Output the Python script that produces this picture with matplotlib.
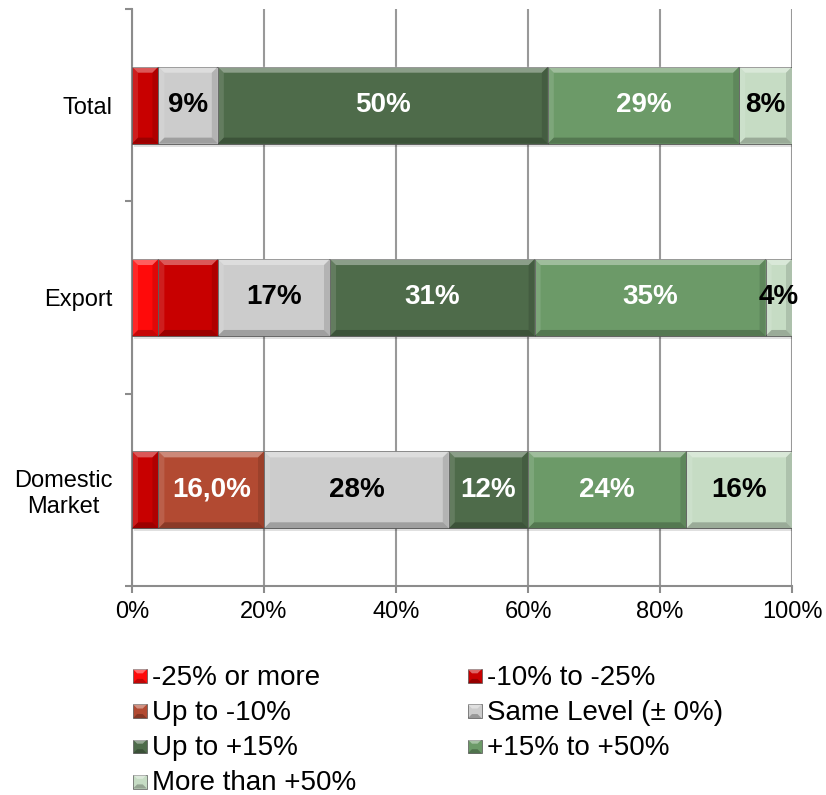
import matplotlib
matplotlib.use("Agg")
import matplotlib.pyplot as plt
from matplotlib.patches import Rectangle, Polygon
from matplotlib.legend_handler import HandlerPatch

plt.rcParams["font.family"] = ["Liberation Sans", "DejaVu Sans"]

categories = ["Total", "Export", "Domestic\nMarket"]
series = ["-25% or more", "-10% to -25%", "Up to -10%", "Same Level (\u00b1 0%)",
          "Up to +15%", "+15% to +50%", "More than +50%"]
colors = ["#ff0a0a", "#c80000", "#b24a32", "#cccccc", "#4e6b4a", "#6c9a68", "#c6dcc4"]

# share of answers per category, one list per series (Total, Export, Domestic)
values = [
    [0, 4, 0],
    [4, 9, 4],
    [0, 0, 16],
    [9, 17, 28],
    [50, 31, 12],
    [29, 35, 24],
    [8, 4, 16],
]
labels = [
    [None, None, None],
    [None, None, None],
    [None, None, "16,0%"],
    ["9%", "17%", "28%"],
    ["50%", "31%", "12%"],
    ["29%", "35%", "24%"],
    ["8%", "4%", "16%"],
]
label_colors = ["white", "white", "white", "black", "white", "white", "black"]

fig = plt.figure(figsize=(8.26, 7.95), dpi=100)
ax = fig.add_axes([132 / 826, 1 - 586 / 795, 660 / 826, 577 / 795])
ax.set_xlim(0, 100)
ax.set_ylim(2.5, -0.5)

bar_h = 0.40
ypos = list(range(len(categories)))
left = [0] * len(categories)
containers = []
for i, name in enumerate(series):
    bc = ax.barh(ypos, values[i], left=left, height=bar_h, color=colors[i],
                 edgecolor="#555555", linewidth=0.6, zorder=3, label=name)
    containers.append(bc)
    for j, v in enumerate(values[i]):
        if labels[i][j]:
            ax.text(left[j] + v / 2, ypos[j], labels[i][j], ha="center", va="center",
                    fontsize=20, fontweight="bold", color=label_colors[i], zorder=6)
    left = [l + v for l, v in zip(left, values[i])]

# bevelled look: light top/left bands, dark bottom/right bands, soft shadow
sx = 660 / 100
sy = 577 / 3
bev = 6.0
for bc in containers:
    for r in bc.patches:
        w = r.get_width()
        if w <= 0:
            continue
        x0, y0 = r.get_x(), r.get_y()
        x1, y1 = x0 + w, y0 + r.get_height()
        bx = min(bev / sx, w / 2)
        by = bev / sy
        ax.add_patch(Rectangle((x0 + 2 / sx, y0 + 3 / sy), w, r.get_height(),
                               color="#000000", alpha=0.12, lw=0, zorder=2))
        top = [(x0, y0), (x1, y0), (x1 - bx, y0 + by), (x0 + bx, y0 + by)]
        bot = [(x0, y1), (x1, y1), (x1 - bx, y1 - by), (x0 + bx, y1 - by)]
        lft = [(x0, y0), (x0 + bx, y0 + by), (x0 + bx, y1 - by), (x0, y1)]
        rgt = [(x1, y0), (x1 - bx, y0 + by), (x1 - bx, y1 - by), (x1, y1)]
        ax.add_patch(Polygon(top, closed=True, color="white", alpha=0.35, lw=0, zorder=4))
        ax.add_patch(Polygon(bot, closed=True, color="black", alpha=0.22, lw=0, zorder=4))
        ax.add_patch(Polygon(lft, closed=True, color="white", alpha=0.12, lw=0, zorder=4))
        ax.add_patch(Polygon(rgt, closed=True, color="black", alpha=0.12, lw=0, zorder=4))

ax.set_xticks(range(0, 101, 20))
ax.set_xticklabels([f"{t}%" for t in range(0, 101, 20)], fontsize=17)
ax.set_yticks(ypos)
ax.set_yticklabels(categories, fontsize=17, multialignment="center")
ax.set_yticks([-0.5, 0.5, 1.5, 2.5], minor=True)
ax.tick_params(axis="y", which="major", length=0, pad=14)
ax.tick_params(axis="y", which="minor", length=5, width=1.5, color="#8c8c8c", direction="out")
ax.tick_params(axis="x", length=5, width=1.5, color="#8c8c8c", pad=6)

ax.grid(axis="x", color="#999999", linewidth=1.5, zorder=0)
ax.set_axisbelow(True)
for s in ["top", "right"]:
    ax.spines[s].set_visible(False)
for s in ["left", "bottom"]:
    ax.spines[s].set_color("#8c8c8c")
    ax.spines[s].set_linewidth(1.5)


class BevelHandler(HandlerPatch):
    def create_artists(self, legend, orig_handle, xdescent, ydescent, width, height, fontsize, trans):
        x0, y0 = -xdescent, -ydescent
        s = min(width, height)
        x1, y1 = x0 + s, y0 + s
        b = s * 0.3
        base = Rectangle((x0, y0), s, s, facecolor=orig_handle.get_facecolor(),
                         edgecolor="#555555", lw=0.5, transform=trans)
        top = Polygon([(x0, y1), (x1, y1), (x1 - b, y1 - b), (x0 + b, y1 - b)],
                      closed=True, color="white", alpha=0.4, lw=0, transform=trans)
        bot = Polygon([(x0, y0), (x1, y0), (x1 - b, y0 + b), (x0 + b, y0 + b)],
                      closed=True, color="black", alpha=0.25, lw=0, transform=trans)
        return [base, top, bot]


handles = [bc.patches[0] for bc in containers]
order = [0, 2, 4, 6, 1, 3, 5]
fig.legend([handles[k] for k in order], [series[k] for k in order],
           handler_map={Rectangle: BevelHandler()},
           loc="upper left", bbox_to_anchor=(133 / 826, 1 - 665 / 795), ncol=2,
           frameon=False, fontsize=20, borderpad=0, borderaxespad=0,
           handlelength=0.5, handleheight=0.5, handletextpad=0.2,
           labelspacing=0.33, columnspacing=4.0)

fig.savefig("out.png", dpi=100)
